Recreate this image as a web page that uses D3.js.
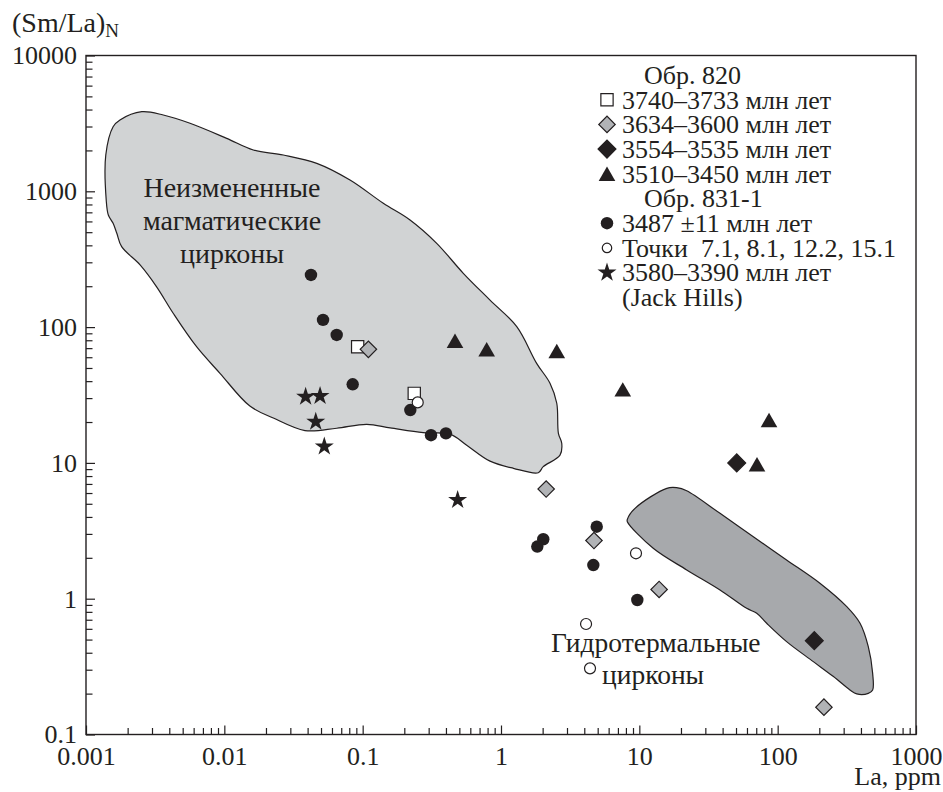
<!DOCTYPE html>
<html>
<head>
<meta charset="utf-8">
<script src="https://cdn.jsdelivr.net/npm/d3@7"></script>
<style>
  body { margin: 0; background: #fff; }
  svg { display: block; font-family: "Liberation Serif", "Times New Roman", serif; }
  text { fill: #231f20; }
</style>
</head>
<body>
<div id="chart"></div>
<script>
const w = 943;
const h = 792;
const ink = "#231f20";

// La, ppm vs (Sm/La)N
const circles = [[0.0423, 242], [0.0517, 113], [0.0649, 87.5], [0.0847, 37.9], [0.221, 24.5],
                 [0.312, 16.0], [0.40, 16.5], [4.92, 3.39], [2.02, 2.74], [1.83, 2.42],
                 [4.65, 1.77], [9.67, 0.978]];
const squares = [[0.092, 71.7], [0.236, 32.5]];
const openCircles = [[0.25, 27.9], [9.46, 2.16], [4.12, 0.651], [4.40, 0.307]];
const grayDiamonds = [[0.11, 68.6], [2.12, 6.42], [4.70, 2.68], [13.9, 1.17], [216, 0.159]];
const blackDiamonds = [[50.6, 10.0], [184, 0.491]];
const triangles = [[0.465, 79.4], [0.788, 68.6], [2.53, 66.7], [7.59, 34.8], [86.6, 20.7], [70.9, 9.77]];
const stars = [[0.0387, 30.7], [0.0492, 31.1], [0.0458, 20.1], [0.0528, 13.2], [0.486, 5.33]];

// field outlines
const magmaticField = [[0.0014, 863], [0.00139, 1850], [0.00157, 2990], [0.00176, 3350], [0.00253, 3855],
  [0.00362, 3647], [0.00565, 3170], [0.0104, 2455], [0.0162, 2015], [0.0267, 1850], [0.0466, 1607],
  [0.081, 1211], [0.141, 816], [0.22, 615], [0.343, 414], [0.534, 249], [0.833, 158], [1.30, 100.7],
  [1.81, 54.1], [2.26, 38.6], [2.53, 27.5], [2.60, 16.5], [2.75, 13.9], [2.67, 11.4], [2.02, 9.38],
  [1.86, 8.47], [1.23, 9.12], [0.833, 10.3], [0.565, 13.5], [0.428, 16.3], [0.274, 16.7], [0.158, 18.1],
  [0.107, 19.2], [0.0649, 18.0], [0.0383, 17.3], [0.0226, 21.4], [0.0153, 26.2], [0.0093, 45.7],
  [0.0063, 71.7], [0.00428, 126], [0.00324, 198], [0.00246, 287], [0.00181, 391], [0.00167, 491],
  [0.00157, 581], [0.00145, 669]];
const hydroField = [[8.19, 3.84], [9.31, 4.63], [15.8, 6.50], [18.6, 6.57], [22.0, 6.24], [38.3, 4.25],
  [66.7, 2.86], [116, 1.93], [202, 1.30], [316, 0.873], [394, 0.659], [452, 0.443], [486, 0.282],
  [486, 0.213], [452, 0.201], [373, 0.199], [333, 0.213], [253, 0.267], [181, 0.344], [116, 0.483],
  [83.3, 0.659], [70.6, 0.781], [59.7, 0.849], [38.3, 1.16], [22.0, 1.63], [12.6, 2.35], [8.19, 3.69]];

const xTicks = [0.001, 0.01, 0.1, 1, 10, 100, 1000];
const yTicks = [0.1, 1, 10, 100, 1000, 10000];

const legendRows = [
  {type: "header", label: "Обр. 820"},
  {type: "square", label: "3740–3733 млн лет"},
  {type: "grayDiamond", label: "3634–3600 млн лет"},
  {type: "blackDiamond", label: "3554–3535 млн лет"},
  {type: "triangle", label: "3510–3450 млн лет"},
  {type: "header", label: "Обр. 831-1"},
  {type: "circle", label: "3487 ±11 млн лет"},
  {type: "openCircle", label: "Точки  7.1, 8.1, 12.2, 15.1"},
  {type: "star", label: "3580–3390 млн лет"},
  {type: "none", label: "(Jack Hills)"}
];

const x = d3.scaleLog().domain([0.001, 1000]).range([86, 916]);
const y = d3.scaleLog().domain([0.1, 10000]).range([734.5, 55.5]);

const svg = d3.select("#chart").append("svg")
  .attr("width", w)
  .attr("height", h);

// fields
const area = d3.line().x(d => x(d[0])).y(d => y(d[1])).curve(d3.curveCatmullRomClosed.alpha(0.5));

svg.append("path")
  .attr("d", area(magmaticField))
  .attr("fill", "#d1d3d4")
  .attr("stroke", ink)
  .attr("stroke-width", 1.2);

svg.append("path")
  .attr("d", area(hydroField))
  .attr("fill", "#a7a9ac")
  .attr("stroke", ink)
  .attr("stroke-width", 1.2);

// field labels
const magLabel = svg.append("text")
  .attr("text-anchor", "middle")
  .style("font-size", "28px");
["Неизмененные", "магматические", "цирконы"].forEach((t, i) => {
  magLabel.append("tspan").attr("x", 232).attr("y", 197 + i * 33).text(t);
});

svg.append("text").attr("x", 551).attr("y", 652).style("font-size", "27.5px").text("Гидротермальные");
svg.append("text").attr("x", 602).attr("y", 684).style("font-size", "27.5px").text("цирконы");

// axes
const xMajor = svg.append("g")
  .attr("transform", "translate(0," + y.range()[0] + ")")
  .call(d3.axisBottom(x).tickValues(xTicks).tickSize(-9).tickSizeOuter(0).tickPadding(12)
    .tickFormat(d => String(d)));
const xMinor = svg.append("g")
  .attr("transform", "translate(0," + y.range()[0] + ")")
  .call(d3.axisBottom(x).tickValues(x.ticks().filter(d => !xTicks.includes(d))).tickSize(-6.5)
    .tickSizeOuter(0).tickFormat(""));
const yMajor = svg.append("g")
  .attr("transform", "translate(" + x.range()[0] + ",0)")
  .call(d3.axisLeft(y).tickValues(yTicks).tickSize(-9).tickSizeOuter(0).tickPadding(9)
    .tickFormat(d => String(d)));
const yMinor = svg.append("g")
  .attr("transform", "translate(" + x.range()[0] + ",0)")
  .call(d3.axisLeft(y).tickValues(y.ticks().filter(d => !yTicks.includes(d))).tickSize(-6.5)
    .tickSizeOuter(0).tickFormat(""));

[xMajor, xMinor, yMajor, yMinor].forEach(g => {
  g.select(".domain").remove();
  g.selectAll("line").attr("stroke", ink).attr("stroke-width", 1.2);
  g.selectAll("text").attr("fill", ink).style("font-size", "26px")
    .style("font-family", "'Liberation Serif', 'Times New Roman', serif");
});

svg.append("rect")
  .attr("x", x.range()[0])
  .attr("y", y.range()[1])
  .attr("width", x.range()[1] - x.range()[0])
  .attr("height", y.range()[0] - y.range()[1])
  .attr("fill", "none")
  .attr("stroke", ink)
  .attr("stroke-width", 1.4);

// axis titles
const yTitle = svg.append("text").attr("x", 12).attr("y", 32).style("font-size", "28px");
yTitle.append("tspan").text("(Sm/La)");
yTitle.append("tspan").attr("dy", 5).style("font-size", "19px").text("N");

svg.append("text")
  .attr("x", 941)
  .attr("y", 785)
  .attr("text-anchor", "end")
  .style("font-size", "26px")
  .text("La, ppm");

// markers
const styles = {
  circle: {shape: d3.symbolCircle, size: 121, fill: ink, stroke: "none", rot: 0, dy: 0},
  openCircle: {shape: d3.symbolCircle, size: 95, fill: "#fff", stroke: ink, rot: 0, dy: 0},
  square: {shape: d3.symbolSquare, size: 150, fill: "#fff", stroke: ink, rot: 0, dy: 0},
  grayDiamond: {shape: d3.symbolSquare, size: 135, fill: "#b1b3b6", stroke: ink, rot: 45, dy: 0},
  blackDiamond: {shape: d3.symbolSquare, size: 160, fill: ink, stroke: ink, rot: 45, dy: 0},
  triangle: {shape: d3.symbolTriangle, size: 120, fill: ink, stroke: "none", rot: 0, dy: 2.4},
  star: {shape: d3.symbolStar, size: 112, fill: ink, stroke: "none", rot: 0, dy: 0}
};

function drawMarkers(data, type) {
  const s = styles[type];
  svg.append("g").selectAll("path")
    .data(data)
    .join("path")
    .attr("d", d3.symbol().type(s.shape).size(s.size))
    .attr("transform", d => "translate(" + x(d[0]) + "," + (y(d[1]) + s.dy) + ") rotate(" + s.rot + ")")
    .attr("fill", s.fill)
    .attr("stroke", s.stroke)
    .attr("stroke-width", 1.2);
}

drawMarkers(circles, "circle");
drawMarkers(squares, "square");
drawMarkers(openCircles, "openCircle");
drawMarkers(grayDiamonds, "grayDiamond");
drawMarkers(blackDiamonds, "blackDiamond");
drawMarkers(triangles, "triangle");
drawMarkers(stars, "star");

// legend
const legend = svg.append("g").attr("class", "legend");
legendRows.forEach((row, i) => {
  const cy = 75 + i * 24.7;
  const tx = row.type === "header" ? 644 : 622;
  if (styles[row.type]) {
    const s = styles[row.type];
    legend.append("path")
      .attr("d", d3.symbol().type(s.shape).size(row.type === "openCircle" ? 70 : s.size))
      .attr("transform", "translate(607," + (cy + s.dy) + ") rotate(" + s.rot + ")")
      .attr("fill", s.fill)
      .attr("stroke", s.stroke)
      .attr("stroke-width", 1.2);
  }
  legend.append("text")
    .attr("x", tx)
    .attr("y", cy)
    .attr("dy", "0.34em")
    .style("font-size", "26px")
    .style("white-space", "pre")
    .text(row.label);
});
</script>
</body>
</html>
